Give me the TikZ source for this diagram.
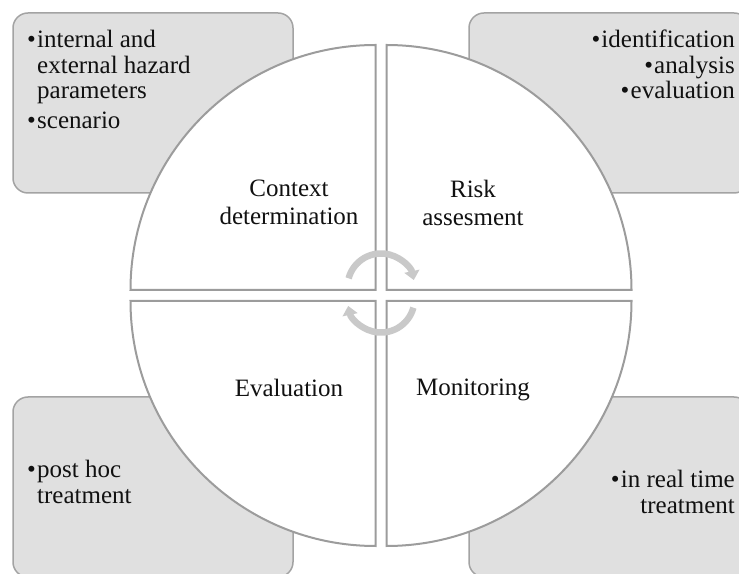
\documentclass[tikz,border=0pt]{standalone}
\usepackage{fontspec}
\setmainfont{Liberation Serif}
\usepackage{xcolor}
\definecolor{cmink}{HTML}{111111}
\definecolor{cmpanel}{HTML}{E0E0E0}
\definecolor{cmrule}{HTML}{A3A3A3}
\definecolor{cmedge}{HTML}{9C9C9C}
\definecolor{cmarc}{HTML}{C9C9C9}
\usepackage{tikz}
\usetikzlibrary{arrows.meta,calc}
\tikzset{
  cmbox/.style  ={rectangle, rounded corners=15pt, draw=cmrule, fill=cmpanel,
                  line width=1.5pt, minimum width=280pt, minimum height=180pt, inner sep=0pt},
  cmquad/.style ={draw=cmedge, fill=white, line width=2pt},
  cmnote/.style ={inner sep=0pt, font=\fontsize{25}{25.5}\selectfont, text=cmink},
  cmlbl/.style  ={inner sep=0pt, font=\fontsize{25}{28}\selectfont, text=cmink, align=center},
  cmarrow/.style={-{Triangle[width=15pt,length=9pt]}, line width=6.5pt, draw=cmarc},
}
\newcommand{\cmdot}{\makebox[10pt][l]{\textbullet}}

\begin{document}
\begin{tikzpicture}[x=1pt,y=1pt]
  \useasboundingbox (0,0) rectangle (739,573);
  \clip (0,0) rectangle (739,573);
  \node[cmbox] (boxtl) at (153,470) {};
  \node[cmbox] (boxtr) at (609,470) {};
  \node[cmbox] (boxbl) at (153,86)  {};
  \node[cmbox] (boxbr) at (609,86)  {};
  \node[cmnote, align=left, anchor=north west] (notetl) at (27,543)
    {\cmdot internal and\\\hspace*{10pt}external hazard\\\hspace*{10pt}parameters\\[4pt]\cmdot scenario};
  \node[cmnote, align=right, anchor=north east] (notetr) at (735,543)
    {\cmdot identification\\\cmdot analysis\\\cmdot evaluation};
  \node[cmnote, align=left, anchor=north west] (notebl) at (27,113)
    {\cmdot post hoc\\\hspace*{10pt}treatment};
  \node[cmnote, align=right, anchor=north east] (notebr) at (735,103)
    {\cmdot in real time\\treatment};
  \coordinate (hub) at (381,277.5);
  \foreach \sx/\sy/\a in {-1/1/90, 1/1/0, -1/-1/180, 1/-1/270}{
    \draw[cmquad] ($(hub)+(\sx*5.5,\sy*5.5)$) -- +(\a:245)
      arc[start angle=\a, delta angle=90, radius=245] -- cycle;}
  \node[cmlbl, anchor=north] (context) at (289,393) {Context\\determination};
  \node[cmlbl, anchor=north] (risk)    at (473,393) {Risk\\assesment};
  \node[cmlbl, anchor=north] (evalq)   at (289,194) {Evaluation};
  \node[cmlbl, anchor=north] (monitor) at (473,194) {Monitoring};
  \draw[cmarrow] (381,286) ++(165:33.5) arc[start angle=165, end angle=12, radius=33.5];
  \draw[cmarrow] (381,274) ++(-15:33.5) arc[start angle=-15, end angle=-168, radius=33.5];
\end{tikzpicture}
\end{document}
